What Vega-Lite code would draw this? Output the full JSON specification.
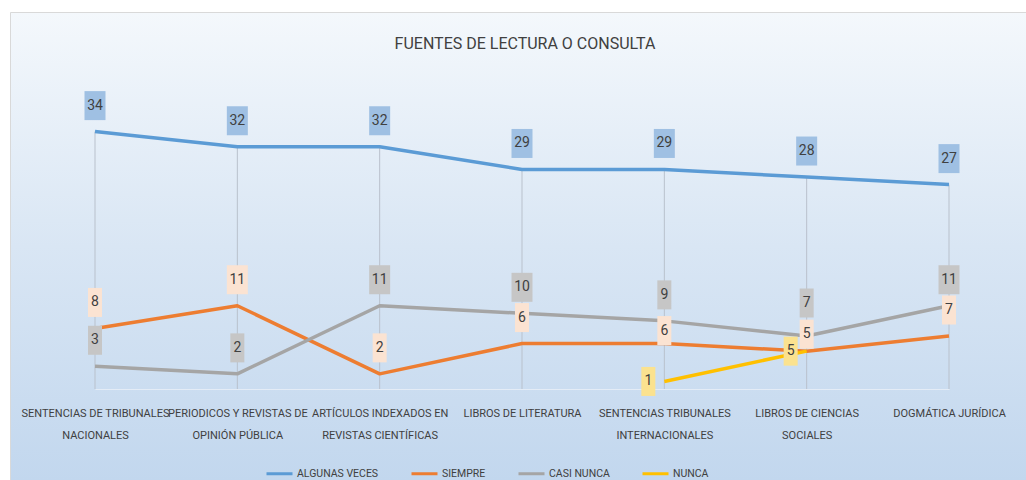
{
  "$schema": "https://vega.github.io/schema/vega-lite/v6.json",
  "width": 1016,
  "height": 468,
  "autosize": {"type": "none"},
  "padding": {"left": 10, "top": 12, "right": 0, "bottom": 0},
  "background": "#ffffff",
  "title": {
    "text": "FUENTES DE LECTURA O CONSULTA",
    "font": "Roboto, sans-serif",
    "fontSize": 16,
    "fontWeight": "normal",
    "color": "#404040",
    "anchor": "middle",
    "baseline": "middle",
    "offset": -48,
    "dx": 7
  },
  "config": {
    "view": {
      "stroke": "#d9d9d9",
      "fill": {
        "gradient": "linear",
        "x1": 0, "y1": 0, "x2": 0, "y2": 1,
        "stops": [
          {"offset": 0, "color": "#f4f8fc"},
          {"offset": 0.5, "color": "#d9e6f4"},
          {"offset": 1, "color": "#c2d7ee"}
        ]
      }
    }
  },
  "data": {
    "values": [
      {"cat": "SENTENCIAS DE TRIBUNALES NACIONALES", "serie": "ALGUNAS VECES", "value": 34},
      {"cat": "PERIODICOS Y REVISTAS DE OPINIÓN PÚBLICA", "serie": "ALGUNAS VECES", "value": 32},
      {"cat": "ARTÍCULOS INDEXADOS EN REVISTAS CIENTÍFICAS", "serie": "ALGUNAS VECES", "value": 32},
      {"cat": "LIBROS DE LITERATURA", "serie": "ALGUNAS VECES", "value": 29},
      {"cat": "SENTENCIAS TRIBUNALES INTERNACIONALES", "serie": "ALGUNAS VECES", "value": 29},
      {"cat": "LIBROS DE CIENCIAS SOCIALES", "serie": "ALGUNAS VECES", "value": 28},
      {"cat": "DOGMÁTICA JURÍDICA", "serie": "ALGUNAS VECES", "value": 27},
      {"cat": "SENTENCIAS DE TRIBUNALES NACIONALES", "serie": "SIEMPRE", "value": 8},
      {"cat": "PERIODICOS Y REVISTAS DE OPINIÓN PÚBLICA", "serie": "SIEMPRE", "value": 11},
      {"cat": "ARTÍCULOS INDEXADOS EN REVISTAS CIENTÍFICAS", "serie": "SIEMPRE", "value": 2},
      {"cat": "LIBROS DE LITERATURA", "serie": "SIEMPRE", "value": 6},
      {"cat": "SENTENCIAS TRIBUNALES INTERNACIONALES", "serie": "SIEMPRE", "value": 6},
      {"cat": "LIBROS DE CIENCIAS SOCIALES", "serie": "SIEMPRE", "value": 5},
      {"cat": "DOGMÁTICA JURÍDICA", "serie": "SIEMPRE", "value": 7},
      {"cat": "SENTENCIAS DE TRIBUNALES NACIONALES", "serie": "CASI NUNCA", "value": 3},
      {"cat": "PERIODICOS Y REVISTAS DE OPINIÓN PÚBLICA", "serie": "CASI NUNCA", "value": 2},
      {"cat": "ARTÍCULOS INDEXADOS EN REVISTAS CIENTÍFICAS", "serie": "CASI NUNCA", "value": 11},
      {"cat": "LIBROS DE LITERATURA", "serie": "CASI NUNCA", "value": 10},
      {"cat": "SENTENCIAS TRIBUNALES INTERNACIONALES", "serie": "CASI NUNCA", "value": 9},
      {"cat": "LIBROS DE CIENCIAS SOCIALES", "serie": "CASI NUNCA", "value": 7},
      {"cat": "DOGMÁTICA JURÍDICA", "serie": "CASI NUNCA", "value": 11},
      {"cat": "SENTENCIAS TRIBUNALES INTERNACIONALES", "serie": "NUNCA", "value": 1},
      {"cat": "LIBROS DE CIENCIAS SOCIALES", "serie": "NUNCA", "value": 5}
    ]
  },
  "encoding": {
    "x": {
      "field": "cat",
      "type": "nominal",
      "sort": null,
      "scale": {"type": "point", "range": [85, 939], "padding": 0},
      "axis": {
        "title": null,
        "offset": -91,
        "ticks": false,
        "domainColor": "#e4ecf6",
        "domainWidth": 1,
        "labelAngle": 0,
        "labelOverlap": false,
        "labelFont": "Roboto, sans-serif",
        "labelFontSize": 11,
        "labelColor": "#404040",
        "labelLineHeight": 22,
        "labelPadding": 18,
        "labelLimit": 200,
        "labelExpr": "split(replace(datum.label, regexp(' (NACIONALES|OPINIÓN|REVISTAS CIENT|INTERNACIONALES|SOCIALES)'), '|$1'), '|')"
      }
    },
    "y": {
      "field": "value",
      "type": "quantitative",
      "scale": {"domain": [-12.02, 49.8], "nice": false, "zero": false},
      "axis": null
    }
  },
  "layer": [
    {
      "transform": [{"filter": "datum.serie == 'ALGUNAS VECES'"}],
      "mark": {"type": "rule", "color": "#b9c1cc", "strokeWidth": 1},
      "encoding": {"y2": {"datum": 0}}
    },
    {
      "mark": {"type": "line", "strokeWidth": 3.5, "strokeJoin": "round"},
      "encoding": {
        "color": {
          "field": "serie",
          "type": "nominal",
          "scale": {
            "domain": ["ALGUNAS VECES", "SIEMPRE", "CASI NUNCA", "NUNCA"],
            "range": ["#5b9bd5", "#ed7d31", "#a5a5a5", "#ffc000"]
          },
          "legend": {
            "title": null,
            "orient": "none",
            "direction": "horizontal",
            "legendX": 255,
            "legendY": 447,
            "symbolType": "stroke",
            "symbolSize": 676,
            "symbolStrokeWidth": 3,
            "labelOffset": 3,
            "columnPadding": 26,
            "labelFont": "Roboto, sans-serif",
            "labelFontSize": 10.5,
            "labelColor": "#404040"
          }
        }
      }
    },
    {
      "mark": {
        "type": "point",
        "filled": true,
        "opacity": 1,
        "size": 4,
        "strokeWidth": 0,
        "shape": {"expr": "datum.value >= 10 ? 'M-10.5,-14.5H10.5V14.5H-10.5Z' : 'M-7,-14.5H7V14.5H-7Z'"},
        "xOffset": {"expr": "datum.serie == 'NUNCA' ? -16 : 0"},
        "yOffset": {"expr": "datum.serie == 'NUNCA' ? 0 : (datum.serie == 'SIEMPRE' && indexof(datum.cat, 'INTERNACIONALES') >= 0) ? -13 : (datum.serie == 'SIEMPRE' && indexof(datum.cat, 'SOCIALES') >= 0) ? -17 : (datum.serie == 'CASI NUNCA' && indexof(datum.cat, 'SOCIALES') >= 0) ? -33 : -26"}
      },
      "encoding": {
        "fill": {
          "field": "serie",
          "type": "nominal",
          "scale": {
            "domain": ["ALGUNAS VECES", "SIEMPRE", "CASI NUNCA", "NUNCA"],
            "range": ["#9fc0e3", "#fbe3d2", "#c6c6c6", "#fbe28f"]
          },
          "legend": null
        }
      }
    },
    {
      "mark": {
        "type": "text",
        "font": "Roboto, sans-serif",
        "fontSize": 14,
        "color": "#404040",
        "align": "center",
        "baseline": "middle",
        "dx": {"expr": "datum.serie == 'NUNCA' ? -16 : 0"},
        "dy": {"expr": "datum.serie == 'NUNCA' ? 0 : (datum.serie == 'SIEMPRE' && indexof(datum.cat, 'INTERNACIONALES') >= 0) ? -13 : (datum.serie == 'SIEMPRE' && indexof(datum.cat, 'SOCIALES') >= 0) ? -17 : (datum.serie == 'CASI NUNCA' && indexof(datum.cat, 'SOCIALES') >= 0) ? -33 : -26"}
      },
      "encoding": {"text": {"field": "value", "type": "quantitative"}}
    }
  ]
}
